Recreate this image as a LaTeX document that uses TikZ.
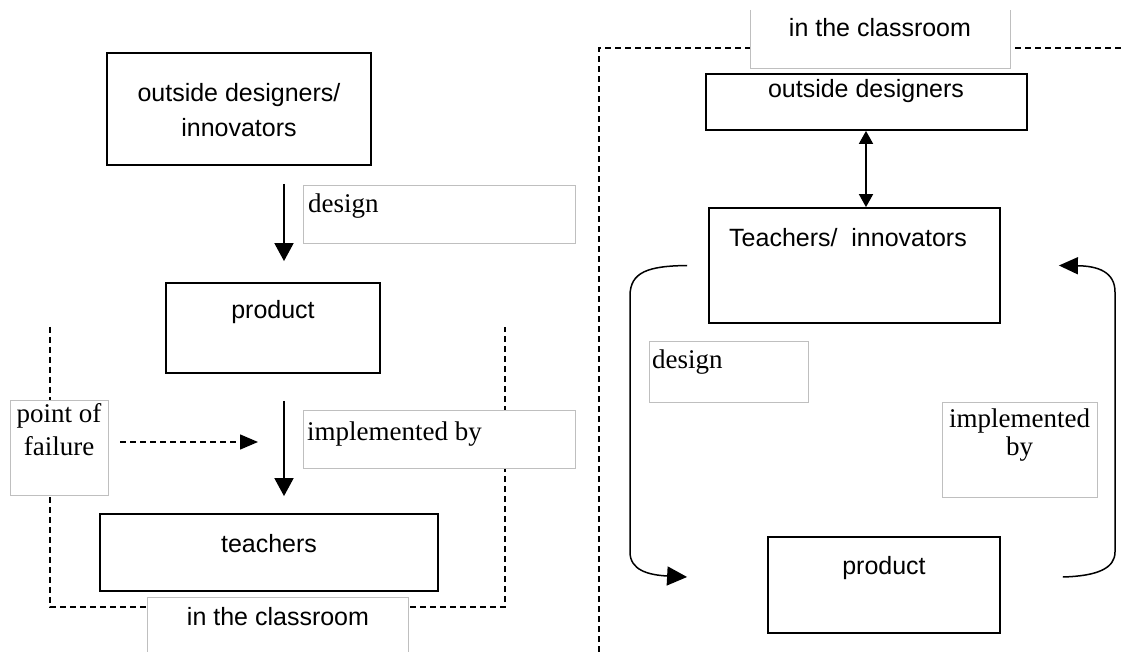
\documentclass[tikz,border=0pt]{standalone}
\usepackage{fontspec}
\setmainfont{Liberation Serif}
\setsansfont{Liberation Sans}
\usetikzlibrary{arrows.meta}
\begin{document}
\begin{tikzpicture}[x=1pt,y=-1pt,
  box/.style={draw=black,line width=1.8pt,inner sep=0pt},
  tag/.style={draw=black!25,line width=0.9pt,fill=white,inner sep=0pt},
  sanstxt/.style={font=\sffamily\fontsize{25}{29}\selectfont,inner sep=0pt,anchor=base},
  seriftxt/.style={font=\fontsize{27}{31}\selectfont,inner sep=0pt,anchor=base},
  framing/.style={line width=1.4pt,dash pattern=on 6pt off 4pt},
  arr/.style={line width=1.8pt,-{Triangle[width=19pt,length=18pt]}},
  curv/.style={line width=1.5pt},
]
\useasboundingbox (0,0) rectangle (1125,652);

% ---------- left panel: dashed classroom frame ----------
\draw[framing] (50,327) -- (50,607) -- (505,607) -- (505,327);

% ---------- right panel: dashed classroom frame ----------
\draw[framing] (599,652) -- (599,48) -- (1125,48);

% ---------- left panel boxes ----------
\node[box,minimum width=264pt,minimum height=112pt] (odl) at (239,109) {};
\node[box,minimum width=214pt,minimum height=90pt]  (prl) at (273,328) {};
\node[box,minimum width=338pt,minimum height=77pt]  (tel) at (269,552.5) {};

\node[sanstxt] at (239,102) {outside designers/};
\node[sanstxt] at (239,137) {innovators};
\node[sanstxt] at (273,319) {product};
\node[sanstxt] at (269,552) {teachers};

% left panel tags
\node[tag,minimum width=272pt,minimum height=58pt] (dsl) at (439,214) {};
\node[tag,minimum width=272pt,minimum height=58pt] (iml) at (439,439) {};
\node[tag,minimum width=98pt,minimum height=95pt]  (pof) at (59,447.5) {};
\filldraw[draw=black!25,fill=white,line width=0.9pt] (147,660) -- (147,597) -- (408,597) -- (408,660);

\node[seriftxt,anchor=base west] at (308,213) {design};
\node[seriftxt,anchor=base west] at (307,440) {implemented by};
\node[seriftxt] at (59,422) {point of};
\node[seriftxt] at (59,455) {failure};
\node[sanstxt] at (278,625) {in the classroom};

% left panel arrows
\coordinate (lx) at (284,0);
\draw[arr,shorten <=18pt,shorten >=21pt] (odl.south -| lx) -- (prl.north -| lx);
\draw[arr,shorten <=27pt,shorten >=17pt] (prl.south -| lx) -- (tel.north -| lx);
\coordinate (fail) at (258,442);
\draw[framing,-{Triangle[width=15pt,length=18pt]}] ([xshift=12pt,yshift=5.5pt]pof.east) -- (fail);

% ---------- right panel boxes ----------
\node[box,minimum width=321pt,minimum height=56pt]  (odr) at (866.5,102) {};
\node[box,minimum width=291pt,minimum height=115pt] (ter) at (854.5,265.5) {};
\node[box,minimum width=232pt,minimum height=96pt]  (prr) at (884,585) {};

\node[sanstxt] at (866,98) {outside designers};
\node[sanstxt] at (848,247) {Teachers/\ \ innovators};
\node[sanstxt] at (884,574) {product};

% right panel tags
\filldraw[draw=black!25,fill=white,line width=0.9pt] (750,10) -- (750,68) -- (1010,68) -- (1010,10);
\node[tag,minimum width=159pt,minimum height=61pt] (dsr) at (728.5,371.5) {};
\node[tag,minimum width=155pt,minimum height=95pt] (imr) at (1019.5,449.5) {};

\node[sanstxt] at (880,37) {in the classroom};
\node[seriftxt,anchor=base west] at (652,369) {design};
\node[seriftxt] at (1019.5,427) {implemented};
\node[seriftxt] at (1019.5,455) {by};

% right panel arrows
\coordinate (rx) at (866,0);
\draw[line width=1.8pt,{Triangle[width=14pt,length=13pt]}-{Triangle[width=14pt,length=13pt]}]
  (odr.south -| rx) -- (ter.north -| rx);
\draw[curv,-{Triangle[width=19pt,length=20pt]}]
  ([xshift=-21pt]ter.west) .. controls (648,266) and (630,272) .. (630,296)
  -- (630,552) .. controls (630,570) and (648,575) .. ([xshift=-80pt,yshift=8pt]prr.west);
\draw[curv,-{Triangle[width=17pt,length=19pt]}]
  ([xshift=62pt,yshift=8pt]prr.east) .. controls (1098,576) and (1115,568) .. (1115,552)
  -- (1115,292) .. controls (1115,272) and (1098,266) .. ([xshift=58pt]ter.east);
\end{tikzpicture}
\end{document}
